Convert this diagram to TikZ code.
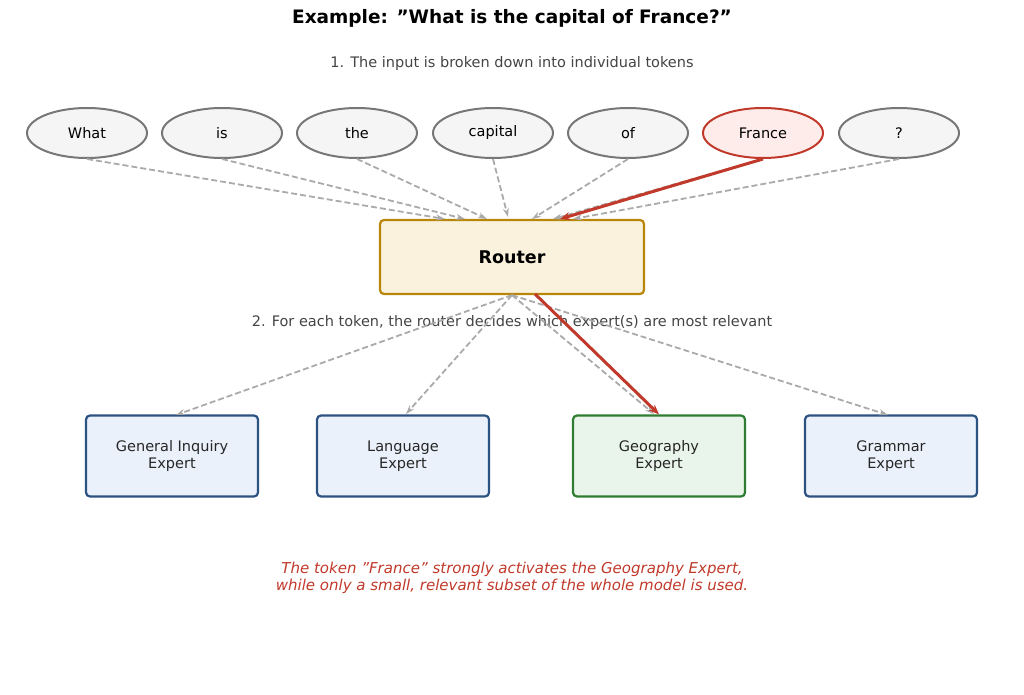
\documentclass[tikz,border=0pt]{standalone}
\usepackage{fontspec}
\setmainfont{DejaVu Sans}
\usetikzlibrary{shapes.geometric,arrows.meta}
\definecolor{tokfill}{HTML}{F5F5F5}
\definecolor{tokdraw}{HTML}{777777}
\definecolor{redc}{HTML}{C0392B}
\definecolor{redfill}{HTML}{FDECEA}
\definecolor{routfill}{HTML}{FAF2DC}
\definecolor{routdraw}{HTML}{B8860B}
\definecolor{bluefill}{HTML}{EAF1FB}
\definecolor{bluedraw}{HTML}{2C5282}
\definecolor{greenfill}{HTML}{E9F5EA}
\definecolor{greendraw}{HTML}{2E7D32}
\definecolor{graya}{HTML}{AAAAAA}
\definecolor{txt}{HTML}{444444}
\newcommand{\q}{\char34\relax}
\begin{document}
\begin{tikzpicture}[x=1pt,y=-1pt,
 tok/.style={ellipse,draw=tokdraw,fill=tokfill,line width=2pt,minimum width=120pt,minimum height=50pt,inner sep=0pt,font=\fontsize{14.5}{17}\selectfont},
 expert/.style={rounded corners=4pt,line width=2.2pt,minimum width=172pt,minimum height=81pt,align=center,font=\fontsize{14.5}{17}\selectfont,text=black!85},
 garr/.style={graya,dash pattern=on 6pt off 3pt,line width=1.8pt,-{Stealth[length=9pt,width=6pt]}},
 rarr/.style={redc,line width=3pt,-{Stealth[length=10pt,width=8pt]}}]
\useasboundingbox (0,0) rectangle (1024,695);
\node[font=\bfseries\fontsize{18.5}{22}\selectfont] (title) at (512,18) {Example: \q What is the capital of France?\q};
\node[text=txt,font=\fontsize{14.5}{17}\selectfont] (s1) at (512,64) {1. The input is broken down into individual tokens};
\node[tok] (t1) at (87,133) {What};
\node[tok] (t2) at (222,133) {is};
\node[tok] (t3) at (357,133) {the};
\node[tok] (t4) at (493,133) {capital};
\node[tok] (t5) at (628,133) {of};
\node[tok,draw=redc,fill=redfill] (t6) at (763,133) {France};
\node[tok] (t7) at (899,133) {?};
\node[draw=routdraw,fill=routfill,line width=2.2pt,rounded corners=4pt,minimum width=264pt,minimum height=74pt,font=\bfseries\fontsize{17.5}{20}\selectfont] (r) at (512,257) {Router};
\coordinate (a1) at (445,219);\coordinate (a2) at (465,219);\coordinate (a3) at (487,219);
\coordinate (a4) at (508,217);\coordinate (a5) at (532,219);\coordinate (a6) at (560,219);\coordinate (a7) at (573,219);
\draw[garr] (t1.south) -- (a1);
\draw[garr] (t2.south) -- (a2);
\draw[garr] (t3.south) -- (a3);
\draw[garr] (t4.south) -- (a4);
\draw[garr] (t5.south) -- (a5);
\draw[garr] (t6.south) -- (553,219);
\draw[garr] (t7.south) -- (a7);
\draw[rarr] (t6.south) -- (a6);
\node[text=txt,font=\fontsize{14.5}{17}\selectfont] (s2) at (512,322) {2. For each token, the router decides which expert(s) are most relevant};
\node[expert,draw=bluedraw,fill=bluefill] (e1) at (172,456) {General Inquiry\\Expert};
\node[expert,draw=bluedraw,fill=bluefill] (e2) at (403,456) {Language\\Expert};
\node[expert,draw=greendraw,fill=greenfill] (e3) at (659,456) {Geography\\Expert};
\node[expert,draw=bluedraw,fill=bluefill] (e4) at (891,456) {Grammar\\Expert};
\draw[garr] (r.south) -- (176,415);
\draw[garr] (r.south) -- (406,414);
\draw[garr] (r.south) -- (654,414);
\draw[garr] (r.south) -- (888,415);
\draw[rarr] (535,294) -- (e3.north);
\node[text=redc,align=center,font=\itshape\fontsize{15}{17}\selectfont] (note) at (512,578) {The token \q France\q{} strongly activates the Geography Expert,\\while only a small, relevant subset of the whole model is used.};
\end{tikzpicture}
\end{document}
